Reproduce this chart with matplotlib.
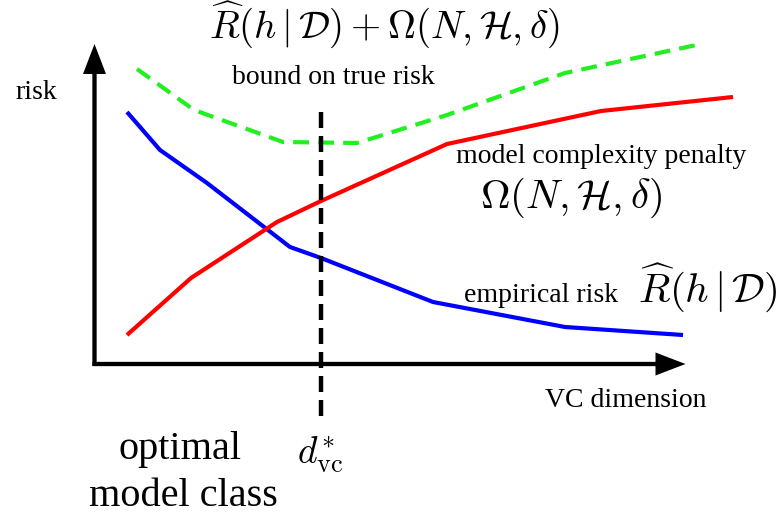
import numpy as np
import matplotlib.pyplot as plt

plt.rcParams['mathtext.fontset'] = 'cm'
plt.rcParams['font.family'] = 'Liberation Serif'

# %% Data (picture coordinates, y grows downward)
emp_x = [127, 160, 207, 290, 321, 433, 565, 683]
emp_y = [112, 150, 183, 247, 258, 302, 327, 335]

pen_x = [127, 191, 277, 321, 447, 601, 733]
pen_y = [335, 278, 222, 201, 144, 111, 97]

bound_x = [137, 194, 283, 357, 447, 565, 701]
bound_y = [69, 110, 142, 143, 115, 73, 44]

d_vc = 321

# %% Plot
fig = plt.figure(figsize=(7.82, 5.23), dpi=100)
ax = fig.add_axes([0, 0, 1, 1])
ax.set_xlim(0, 782)
ax.set_ylim(523, 0)
ax.axis('off')

# axes arrows
ax.arrow(94.5, 366, 0, -322, width=4.3, head_width=23, head_length=30,
         length_includes_head=True, color='k', lw=0)
ax.arrow(92.5, 364, 593, 0, width=4.3, head_width=23, head_length=30,
         length_includes_head=True, color='k', lw=0)

ax.plot(emp_x, emp_y, color='#0000ff', lw=3, solid_capstyle='butt')
ax.plot(pen_x, pen_y, color='#ff0000', lw=3, solid_capstyle='butt')
ax.plot(bound_x, bound_y, color='#22ee22', lw=3, dashes=(3.8, 2.2))
ax.plot([d_vc, d_vc], [112, 418], color='k', lw=3.2, dashes=(3.6, 1.8))

# labels
small = 20
big = 29.5
ax.text(36, 99, 'risk', fontsize=small, va='baseline', ha='center')
ax.text(626, 407, 'VC dimension', fontsize=small, va='baseline', ha='center')
ax.text(333, 84, 'bound on true risk', fontsize=small, va='baseline', ha='center')
ax.text(385, 39, r'$\widehat{R}(h\,|\,\mathcal{D}) + \Omega(N, \mathcal{H}, \delta)$',
        fontsize=28, va='baseline', ha='center')
ax.text(601, 163, 'model complexity penalty', fontsize=small, va='baseline', ha='center')
ax.text(571, 208, r'$\Omega(N, \mathcal{H}, \delta)$', fontsize=big, va='baseline', ha='center')
ax.text(541, 302, 'empirical risk', fontsize=small, va='baseline', ha='center')
ax.text(708, 302, r'$\widehat{R}(h\,|\,\mathcal{D})$', fontsize=big, va='baseline', ha='center')
ax.text(320, 463, r'$d^{*}_{\mathrm{vc}}$', fontsize=27, va='baseline', ha='center')
ax.text(180, 459, 'optimal', fontsize=29, va='baseline', ha='center')
ax.text(183, 506, 'model class', fontsize=29, va='baseline', ha='center')

plt.savefig('out.png', dpi=100)
